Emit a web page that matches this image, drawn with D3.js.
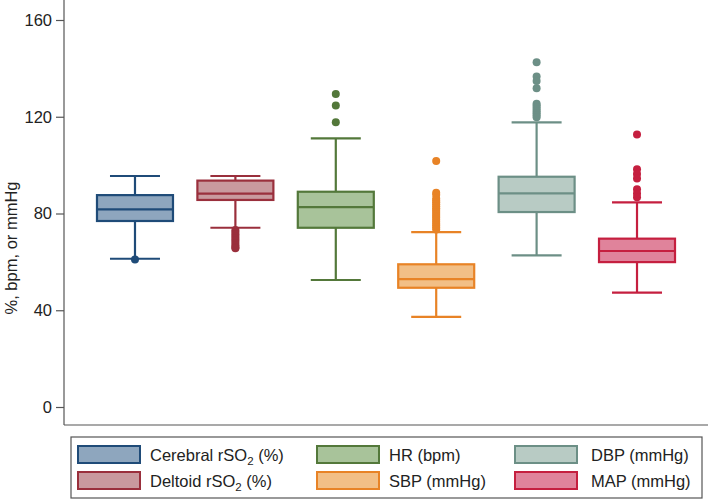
<!DOCTYPE html>
<html><head><meta charset="utf-8">
<script src="https://cdn.jsdelivr.net/npm/d3@7"></script>
<style>body{margin:0;background:#fff}svg{display:block}text{font-family:"Liberation Sans",Arial,sans-serif}</style>
</head><body>
<svg id="c" width="709" height="499"></svg>
<script>
const categories = ["Cerebral","Deltoid","HR","SBP","DBP","MAP"];
const legendMain = ["Cerebral rSO","Deltoid rSO","HR (bpm)","SBP (mmHg)","DBP (mmHg)","MAP (mmHg)"];
const legendSub = ["2","2","","","",""];
const legendTail = [" (%)"," (%)","","","",""];
const whiskerLow = [61.3, 74.1, 52.5, 37.3, 62.7, 47.3];
const q1 = [76.9, 85.6, 74.1, 49.3, 80.6, 59.9];
const median = [81.7, 88.2, 82.6, 52.9, 88.3, 64.5];
const q3 = [87.6, 93.6, 89.0, 59.0, 95.2, 69.6];
const whiskerHigh = [95.5, 95.5, 111.1, 72.3, 117.7, 84.6];
const outliers = [
  [61.0],
  [73.2, 72.3, 71.4, 70.5, 69.6, 68.7, 67.8, 66.9, 66.0, 65.6],
  [129.4, 124.6, 117.7],
  [101.7, 88.6, 87.8, 86.2, 85.4, 84.6, 83.8, 83.0, 82.2, 81.4, 80.6, 79.8, 79.0, 78.2, 77.4, 76.6, 75.8, 75.0, 74.2, 73.4],
  [142.5, 136.6, 134.8, 131.8, 125.4, 124.6, 123.8, 123.0, 122.2, 121.4, 120.6, 119.8],
  [112.7, 98.3, 96.3, 94.5, 90.0, 88.3, 86.7]
];
const yTicks = [0, 40, 80, 120, 160];
const strokeColors = ["#1f4b78","#9a2f3c","#53783a","#e88326","#6c8f86","#c51f3f"];
const fillColors = ["#8ea6be","#c9999e","#a8c39a","#f2bf86","#b8cbc4","#e0839b"];

const svg = d3.select("#c");
const x = d3.scalePoint().domain(categories).range([64, 708]).padding(0.707);
const y = d3.scaleLinear().domain([0, 160]).range([407, 20]);
const boxW = 76, capW = 50, fs = 16.5;

// axes frame
svg.append("line").attr("x1",64).attr("x2",64).attr("y1",0).attr("y2",425).attr("stroke","#555").attr("stroke-width",1.2);
svg.append("line").attr("x1",64).attr("x2",708).attr("y1",425).attr("y2",425).attr("stroke","#555").attr("stroke-width",1.2);

const yAxis = d3.axisLeft(y).tickValues(yTicks).tickSize(8).tickPadding(4);
const gy = svg.append("g").attr("transform","translate(64,0)").call(yAxis);
gy.select(".domain").remove();
gy.selectAll(".tick line").attr("stroke","#555").attr("stroke-width",1.2);
gy.selectAll(".tick text").attr("font-size",fs).attr("fill","#222").attr("font-family","Liberation Sans, Arial, sans-serif");

svg.append("text").attr("transform","translate(17,248) rotate(-90)").attr("text-anchor","middle")
  .attr("font-size",fs).attr("fill","#222").text("%, bpm, or mmHg");

const data = categories.map((c,i)=>({c,i}));
const g = svg.append("g").selectAll("g").data(data).join("g");
g.each(function(d){
  const s = d3.select(this), i = d.i, cx = x(d.c);
  const sc = strokeColors[i];
  s.append("line").attr("x1",cx).attr("x2",cx).attr("y1",y(whiskerHigh[i])).attr("y2",y(q3[i])).attr("stroke",sc).attr("stroke-width",2.2);
  s.append("line").attr("x1",cx).attr("x2",cx).attr("y1",y(q1[i])).attr("y2",y(whiskerLow[i])).attr("stroke",sc).attr("stroke-width",2.2);
  s.append("line").attr("x1",cx-capW/2).attr("x2",cx+capW/2).attr("y1",y(whiskerHigh[i])).attr("y2",y(whiskerHigh[i])).attr("stroke",sc).attr("stroke-width",2.2);
  s.append("line").attr("x1",cx-capW/2).attr("x2",cx+capW/2).attr("y1",y(whiskerLow[i])).attr("y2",y(whiskerLow[i])).attr("stroke",sc).attr("stroke-width",2.2);
  s.append("rect").attr("x",cx-boxW/2).attr("width",boxW).attr("y",y(q3[i])).attr("height",y(q1[i])-y(q3[i]))
    .attr("fill",fillColors[i]).attr("stroke",sc).attr("stroke-width",2.2);
  s.append("line").attr("x1",cx-boxW/2).attr("x2",cx+boxW/2).attr("y1",y(median[i])).attr("y2",y(median[i])).attr("stroke",sc).attr("stroke-width",2.2);
  s.selectAll("circle").data(outliers[i]).join("circle").attr("cx",cx).attr("cy",v=>y(v)).attr("r",4).attr("fill",sc);
});

// legend
svg.append("rect").attr("x",71).attr("y",437).attr("width",631).attr("height",61).attr("fill","#fff").attr("stroke","#555").attr("stroke-width",1.2);
const colX = [78, 317, 515];
const textOff = [72, 72, 76];
const rowY = [446, 472];
legendMain.forEach((t,i)=>{
  const col = Math.floor(i/2), row = i%2;
  const sx = colX[col], sy = rowY[row];
  svg.append("rect").attr("x",sx).attr("y",sy).attr("width",62).attr("height",17)
    .attr("fill",fillColors[i]).attr("stroke",strokeColors[i]).attr("stroke-width",2);
  const tx = svg.append("text").attr("x",sx+textOff[col]).attr("y",sy+15).attr("font-size",fs).attr("fill","#222");
  tx.append("tspan").text(t);
  if (legendSub[i]) {
    tx.append("tspan").attr("font-size",11.5).attr("dy",4).text(legendSub[i]);
    tx.append("tspan").attr("dy",-4).text(legendTail[i]);
  }
});
</script>
</body></html>
